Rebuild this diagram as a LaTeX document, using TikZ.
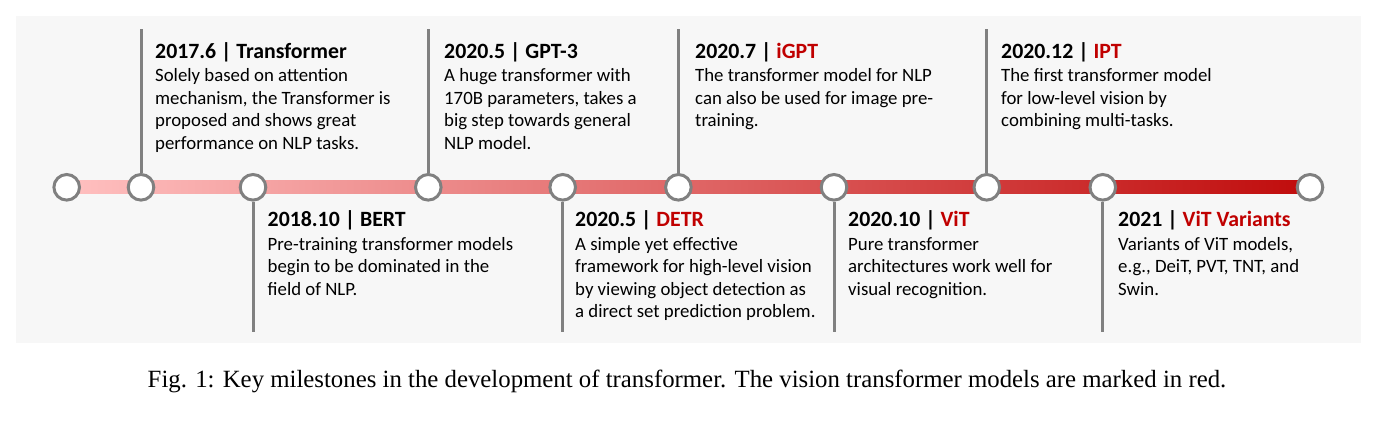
\documentclass[tikz,border=0pt]{standalone}
\usepackage{fontspec}
\setmainfont{Carlito}
\newfontfamily\capfont{Liberation Serif}
\usepackage{tikz}
\usetikzlibrary{backgrounds, positioning}
\definecolor{linegray}{rgb}{0.5, 0.5, 0.5}
\definecolor{bggray}{RGB}{247, 247, 247}
\definecolor{visred}{RGB}{192, 0, 0}
\definecolor{barlight}{RGB}{255, 192, 192}
\definecolor{bardark}{RGB}{192, 12, 12}

\begin{document}
\begin{tikzpicture}[x=1pt, y=-1pt,
		mile/.style={circle, draw=linegray, line width=3pt, fill=white, minimum size=25.6pt, inner sep=0pt},
		stem/.style={draw=linegray, line width=3pt},
		headline/.style={anchor=base west, inner sep=0pt, font=\fontsize{21.8}{24}\selectfont\bfseries},
		bodytext/.style={anchor=base west, inner sep=0pt, align=left, font=\fontsize{18.8}{22.6}\selectfont}]
		\useasboundingbox (0,0) rectangle (1389,422);
		% milestones on the time line
		\foreach \n/\x in {1/66.7, 2/141, 3/253, 4/428.3, 5/562.7, 6/678.4, 7/834, 8/986.8, 9/1102.8, 10/1310}{
			\node [mile] (c\n) at (\x,187.3) {};
		}
		\begin{scope}[on background layer]
			\fill [bggray] (16,16) rectangle (1361,343);
			\shade [left color=barlight, right color=bardark] ([yshift=6.3pt]c1.center) rectangle ([yshift=-6.3pt]c10.center);
		\end{scope}
		% stems up and down
		\foreach \n in {2,4,6,8}{
			\coordinate (u\n) at (c\n |- 0,29.3);
			\draw [stem] (c\n.north) -- (u\n);
		}
		\foreach \n in {3,5,7,9}{
			\coordinate (d\n) at (c\n |- 0,331.5);
			\draw [stem] (c\n.south) -- (d\n);
		}
		% texts above the line (body base = its last line)
		\node [headline] (t2) at (155,58.3) {2017.6 | Transformer};
		\node [bodytext] (b2) at ([yshift=-91.2pt]t2.base west) {Solely based on attention\\mechanism, the Transformer is\\proposed and shows great\\performance on NLP tasks.};
		\node [headline] (t4) at (444,58.3) {2020.5 | GPT-3};
		\node [bodytext] (b4) at ([yshift=-91.2pt]t4.base west) {A huge transformer with\\170B parameters, takes a\\big step towards general\\NLP model.};
		\node [headline] (t6) at (695,58.3) {2020.7 | \textcolor{visred}{iGPT}};
		\node [bodytext] (b6) at ([yshift=-68.6pt]t6.base west) {The transformer model for NLP\\can also be used for image pre-\\training.};
		\node [headline] (t8) at (1001,58.3) {2020.12 | \textcolor{visred}{IPT}};
		\node [bodytext] (b8) at ([yshift=-68.6pt]t8.base west) {The first transformer model\\for low-level vision by\\combining multi-tasks.};
		% texts below the line
		\node [headline] (t3) at (267.5,226.7) {2018.10 | BERT};
		\node [bodytext] (b3) at ([yshift=-68.6pt]t3.base west) {Pre-training transformer models\\begin to be dominated in the\\field of NLP.};
		\node [headline] (t5) at (575,226.7) {2020.5 | \textcolor{visred}{DETR}};
		\node [bodytext] (b5) at ([yshift=-91.2pt]t5.base west) {A simple yet effective\\framework for high-level vision\\by viewing object detection as\\a direct set prediction problem.};
		\node [headline] (t7) at (848,226.7) {2020.10 | \textcolor{visred}{ViT}};
		\node [bodytext] (b7) at ([yshift=-68.6pt]t7.base west) {Pure transformer\\architectures work well for\\visual recognition.};
		\node [headline] (t9) at (1118,226.7) {2021 | \textcolor{visred}{ViT Variants}};
		\node [bodytext] (b9) at ([yshift=-68.6pt]t9.base west) {Variants of ViT models,\\e.g., DeiT, PVT, TNT, and\\Swin.};
		% caption
		\node [anchor=base, inner sep=0pt, font=\capfont\fontsize{24.8}{30}\selectfont] (cap) at (687,387.3) {Fig. 1: Key milestones in the development of transformer. The vision transformer models are marked in red.};
	\end{tikzpicture}
\end{document}
